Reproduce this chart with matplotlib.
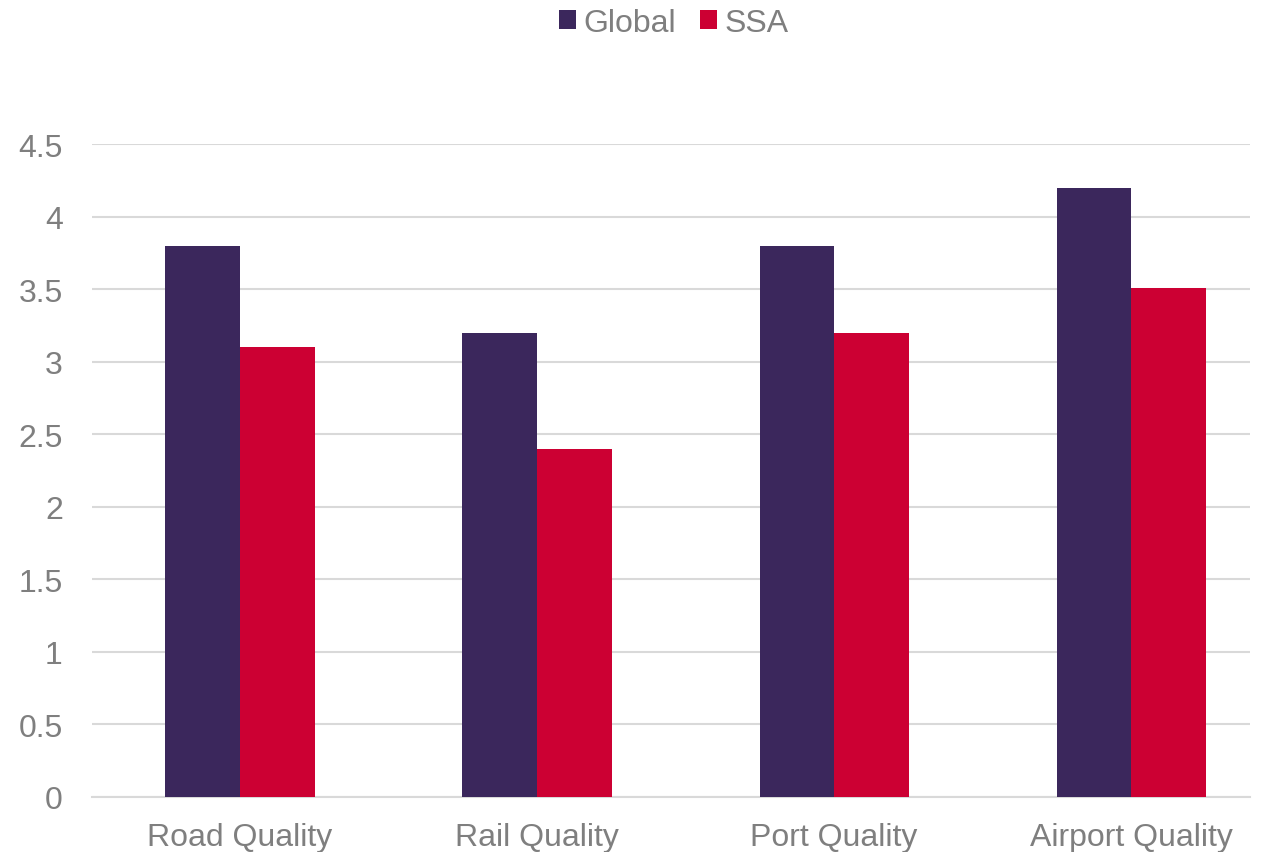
import numpy as np
import matplotlib.pyplot as plt

# categorias y valores
categorias = ["Road Quality", "Rail Quality", "Port Quality", "Airport Quality"]
global_vals = [3.8, 3.2, 3.8, 4.2]
ssa_vals = [3.1, 2.4, 3.2, 3.51]

plt.rcParams['font.family'] = ['Liberation Sans', 'DejaVu Sans']
gris = '#7f7f7f'

fig = plt.figure(figsize=(12.66, 8.53), dpi=100)
ax = fig.add_axes([0.0727, 0.0645, 0.9147, 0.7655])

x = np.arange(len(categorias))
ancho = 0.251
ax.bar(x - ancho/2, global_vals, ancho, color='#3b275c', label='Global', zorder=3)
ax.bar(x + ancho/2, ssa_vals, ancho, color='#cc0033', label='SSA', zorder=3)

ax.set_xlim(-0.498, 3.40)
ax.set_ylim(0, 4.5)
ax.set_yticks(np.arange(0, 4.51, 0.5))
ax.set_yticklabels(["0", "0.5", "1", "1.5", "2", "2.5", "3", "3.5", "4", "4.5"])
ax.set_xticks(x)
ax.set_xticklabels(categorias)
ax.tick_params(axis='both', length=0, labelsize=23, colors=gris)
ax.tick_params(axis='y', pad=21)
ax.tick_params(axis='x', pad=18)

ax.grid(axis='y', color='#d9d9d9', linewidth=1.5, zorder=0)
for s in ['top', 'right', 'left']:
    ax.spines[s].set_visible(False)
ax.spines['bottom'].set_color('#d9d9d9')
ax.spines['bottom'].set_linewidth(1.5)

fig.legend(loc='upper center', bbox_to_anchor=(0.532, 1.023), ncol=2, frameon=False,
           fontsize=23, labelcolor=gris, handlelength=0.55, handleheight=0.55,
           handletextpad=0.22, columnspacing=0.75)

plt.savefig('out.png', dpi=100)
